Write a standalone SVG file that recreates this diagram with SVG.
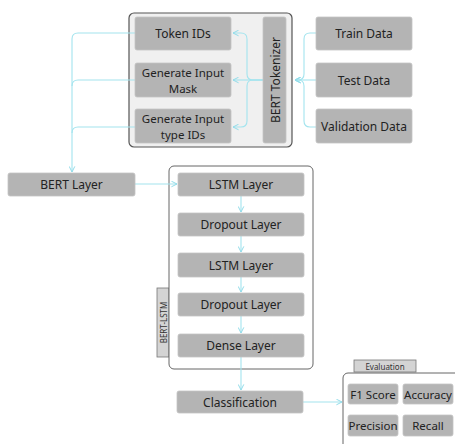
<svg xmlns="http://www.w3.org/2000/svg" width="455" height="444" viewBox="0 0 455 444">
  <defs>
    <marker id="arr" viewBox="0 0 10 10" refX="9" refY="5" markerWidth="7" markerHeight="7" orient="auto-start-reverse" markerUnits="userSpaceOnUse">
      <path d="M1,1 L9,5 L1,9" fill="none" stroke="#8fdbe8" stroke-width="1.4"/>
    </marker>
    <style>
      .box { fill: #b4b4b4; stroke: #c4c4c4; stroke-width: 0.8; }
      .group { fill: #f0f0f0; stroke: #555555; stroke-width: 1.2; }
      .lstm { fill: #ffffff; stroke: #666666; stroke-width: 1; }
      .tab { fill: #d4d4d4; stroke: #777777; stroke-width: 0.8; }
      .lbl { font-family: "Noto Sans", "Open Sans", sans-serif; font-size: 12px; fill: #222222; text-anchor: middle; dominant-baseline: central; }
      .two { font-size: 11.5px; }
      .ev { font-size: 11.5px; }
      .small { font-family: "Noto Sans", "Open Sans", sans-serif; font-size: 8px; fill: #333333; text-anchor: middle; dominant-baseline: central; }
      .conn { fill: none; stroke: #a3e4ee; stroke-width: 1.1; }
    </style>
  </defs>

  <rect width="455" height="444" fill="#ffffff"/>

  <!-- containers -->
  <g id="tokenizer-group">
    <rect class="group" x="129" y="13" width="163" height="134" rx="5"/>
  </g>
  <g id="bert-lstm-group">
    <rect class="tab" x="157" y="288" width="12" height="69"/>
    <text class="small" transform="translate(163.5,322.5) rotate(-90)">BERT-LSTM</text>
    <rect class="lstm" x="169" y="166" width="144" height="203" rx="5"/>
  </g>
  <g id="evaluation-group">
    <rect class="tab" x="354" y="360" width="62" height="12"/>
    <text class="small" x="385" y="366">Evaluation</text>
    <rect class="lstm" x="343" y="373" width="120" height="80" rx="5"/>
  </g>

  <!-- connectors -->
  <g id="connectors">
    <!-- data sets into tokenizer -->
    <path class="conn" d="M316,33 H310 Q304,33 304,39 V74 Q304,80 298,80 H295" marker-end="url(#arr)"/>
    <path class="conn" d="M316,80 H295" marker-end="url(#arr)"/>
    <path class="conn" d="M316,127 H310 Q304,127 304,121 V86 Q304,80 298,80 H295" marker-end="url(#arr)"/>
    <!-- tokenizer to its outputs -->
    <path class="conn" d="M263,80 H253 Q247,80 247,74 V39 Q247,33 241,33 H233" marker-end="url(#arr)"/>
    <path class="conn" d="M263,80 H233" marker-end="url(#arr)"/>
    <path class="conn" d="M263,80 H253 Q247,80 247,86 V121 Q247,127 241,127 H233" marker-end="url(#arr)"/>
    <!-- outputs into BERT layer -->
    <path class="conn" d="M135,33 H78 Q72,33 72,39 V172" marker-end="url(#arr)"/>
    <path class="conn" d="M135,80 H78 Q72,80 72,86"/>
    <path class="conn" d="M135,127 H78 Q72,127 72,133"/>
    <!-- model stack -->
    <path class="conn" d="M135,184 H177" marker-end="url(#arr)"/>
    <path class="conn" d="M241,196 V212" marker-end="url(#arr)"/>
    <path class="conn" d="M241,236 V252" marker-end="url(#arr)"/>
    <path class="conn" d="M241,277 V292" marker-end="url(#arr)"/>
    <path class="conn" d="M241,316 V333" marker-end="url(#arr)"/>
    <path class="conn" d="M241,357 V390" marker-end="url(#arr)"/>
    <path class="conn" d="M303,402 H342" marker-end="url(#arr)"/>
  </g>

  <!-- nodes -->
  <g id="token-ids">
    <rect class="box" x="135" y="17" width="96" height="33" rx="2"/>
    <text class="lbl" x="183" y="33.5">Token IDs</text>
  </g>
  <g id="input-mask">
    <rect class="box" x="135" y="63" width="96" height="34" rx="2"/>
    <text class="lbl two" x="183" y="72">Generate Input</text>
    <text class="lbl two" x="183" y="88">Mask</text>
  </g>
  <g id="input-type-ids">
    <rect class="box" x="135" y="109" width="96" height="34" rx="2"/>
    <text class="lbl two" x="183" y="118">Generate Input</text>
    <text class="lbl two" x="183" y="134">type IDs</text>
  </g>
  <g id="bert-tokenizer">
    <rect class="box" x="263" y="17" width="23" height="126" rx="2"/>
    <text class="lbl" transform="translate(275,80) rotate(-90)">BERT Tokenizer</text>
  </g>
  <g id="train-data">
    <rect class="box" x="316" y="17" width="96" height="33" rx="2"/>
    <text class="lbl" x="364" y="33.5">Train Data</text>
  </g>
  <g id="test-data">
    <rect class="box" x="316" y="63" width="96" height="34" rx="2"/>
    <text class="lbl" x="364" y="80">Test Data</text>
  </g>
  <g id="validation-data">
    <rect class="box" x="316" y="109" width="96" height="34" rx="2"/>
    <text class="lbl" x="364" y="126">Validation Data</text>
  </g>
  <g id="bert-layer">
    <rect class="box" x="8" y="173" width="127" height="23" rx="2"/>
    <text class="lbl" x="71.5" y="184.5">BERT Layer</text>
  </g>
  <g id="lstm-1">
    <rect class="box" x="178" y="173" width="126" height="23" rx="2"/>
    <text class="lbl" x="241" y="184.5">LSTM Layer</text>
  </g>
  <g id="dropout-1">
    <rect class="box" x="178" y="213" width="126" height="23" rx="2"/>
    <text class="lbl" x="241" y="224.5">Dropout Layer</text>
  </g>
  <g id="lstm-2">
    <rect class="box" x="178" y="253" width="126" height="24" rx="2"/>
    <text class="lbl" x="241" y="265">LSTM Layer</text>
  </g>
  <g id="dropout-2">
    <rect class="box" x="178" y="293" width="126" height="23" rx="2"/>
    <text class="lbl" x="241" y="304.5">Dropout Layer</text>
  </g>
  <g id="dense">
    <rect class="box" x="178" y="334" width="126" height="23" rx="2"/>
    <text class="lbl" x="241" y="345.5">Dense Layer</text>
  </g>
  <g id="classification">
    <rect class="box" x="177" y="391" width="126" height="22" rx="2"/>
    <text class="lbl" x="240" y="402">Classification</text>
  </g>
  <g id="f1-score">
    <rect class="box" x="348" y="384" width="50" height="20" rx="2"/>
    <text class="lbl ev" x="373" y="394">F1 Score</text>
  </g>
  <g id="accuracy">
    <rect class="box" x="403" y="384" width="50" height="20" rx="2"/>
    <text class="lbl ev" x="428" y="394">Accuracy</text>
  </g>
  <g id="precision">
    <rect class="box" x="348" y="415" width="50" height="21" rx="2"/>
    <text class="lbl ev" x="373" y="425.5">Precision</text>
  </g>
  <g id="recall">
    <rect class="box" x="403" y="415" width="50" height="21" rx="2"/>
    <text class="lbl ev" x="428" y="425.5">Recall</text>
  </g>
</svg>
